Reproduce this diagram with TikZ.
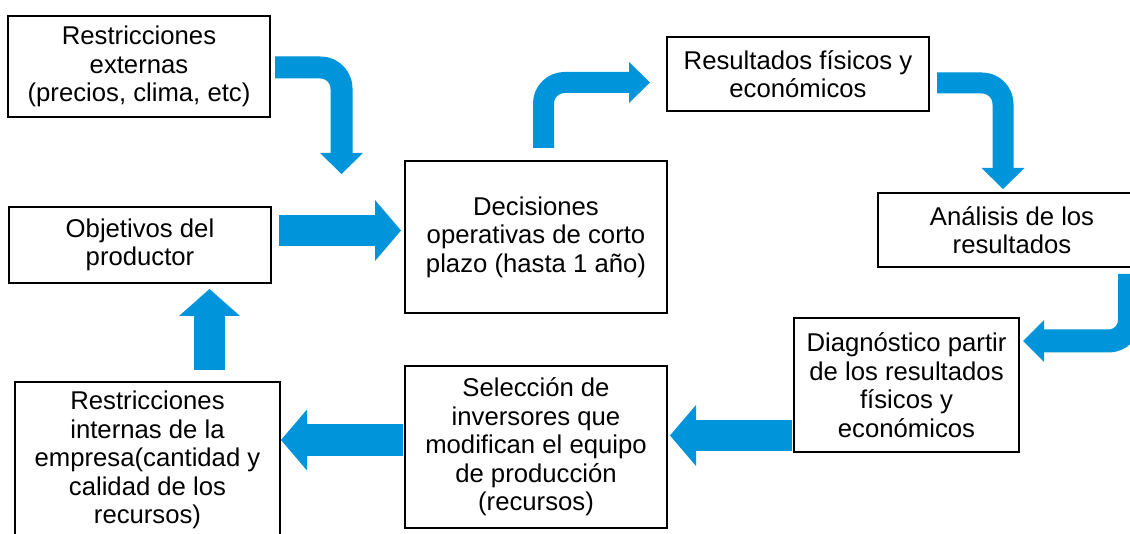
\documentclass[tikz,border=0pt]{standalone}
\usepackage{fontspec}
\setmainfont{Liberation Sans}
\usetikzlibrary{calc}
\definecolor{flowblue}{RGB}{0,149,218}
\newcommand\headv[3]{\fill[head] ($(#1)+(-#3,0)$) -- (#2) -- ($(#1)+(#3,0)$) -- cycle;}
\newcommand\headh[3]{\fill[head] ($(#1)+(0,-#3)$) -- (#2) -- ($(#1)+(0,#3)$) -- cycle;}
\begin{document}
\begin{tikzpicture}[x=1pt,y=-1pt,
  box/.style={draw=black, line width=1.8pt, inner sep=0pt, align=center,
    font=\fontsize{25.7pt}{28.5pt}\selectfont},
  shaft/.style={draw=flowblue, line width=#1, line cap=butt, line join=round, rounded corners=21pt},
  shaft/.default=31pt,
  head/.style={fill=flowblue, draw=none}]
\useasboundingbox (0,0) rectangle (1130,534);
\fill[white] (0,0) rectangle (1130,534);
\clip (0,0) rectangle (1130,534);

% boxes
\node[box, minimum width=262pt, minimum height=101pt] (b1) at (139,66.5) {Restricciones\\externas\\(precios, clima, etc)};
\node[box, minimum width=262pt, minimum height=76pt] (b2) at (140,245) {Objetivos del\\productor};
\node[box, minimum width=265pt, minimum height=156pt] (b3) at (147.5,460) {Restricciones\\internas de la\\empresa(cantidad y\\calidad de los\\recursos)};
\node[box, minimum width=262pt, minimum height=152pt] (b4) at (536,237) {Decisiones\\operativas de corto\\plazo (hasta 1 año)};
\node[box, minimum width=262pt, minimum height=74pt] (b5) at (798,74) {Resultados físicos y\\económicos};
\node[box, minimum width=268pt, minimum height=74pt] (b6) at (1012,230) {Análisis de los\\resultados};
\node[box, minimum width=225pt, minimum height=134pt] (b7) at (906.5,385) {Diagnóstico partir\\de los resultados\\físicos y\\económicos};
\node[box, minimum width=262pt, minimum height=162pt] (b8) at (536,447) {Selección de\\inversores que\\modifican el equipo\\de producción\\(recursos)};

% arrow coordinates
\coordinate (a1s) at (275,67.5);   \coordinate (a1c) at (341.5,67.5);  \coordinate (a1e) at (341.5,153);  \coordinate (a1t) at (341.5,174);
\coordinate (a2s) at (543.5,148);  \coordinate (a2c) at (543.5,82.5);  \coordinate (a2e) at (629,82.5);   \coordinate (a2t) at (650,82.5);
\coordinate (a3s) at (937,83);     \coordinate (a3c) at (1003,83);     \coordinate (a3e) at (1003,168);   \coordinate (a3t) at (1003,189);
\coordinate (a4s) at (1129.5,274); \coordinate (a4c) at (1129.5,341);  \coordinate (a4e) at (1044,341);   \coordinate (a4t) at (1023,341);
\coordinate (a5s) at (792,435.5);  \coordinate (a5e) at (696,435.5);   \coordinate (a5t) at (670,435.5);
\coordinate (a6s) at (403,440);    \coordinate (a6e) at (307,440);     \coordinate (a6t) at (281,440);
\coordinate (a7s) at (209.5,370);  \coordinate (a7e) at (209.5,316);   \coordinate (a7t) at (209.5,289);
\coordinate (a8s) at (279,230.5);  \coordinate (a8e) at (375,230.5);   \coordinate (a8t) at (401,230.5);

% curved arrows
\draw[shaft=22pt] (a1s) -- (a1c) -- ($(a1e)+(0,1)$);  \headv{a1e}{a1t}{21.5}
\draw[shaft=21pt] (a2s) -- (a2c) -- ($(a2e)+(1,0)$);  \headh{a2e}{a2t}{20.5}
\draw[shaft=21pt] (a3s) -- (a3c) -- ($(a3e)+(0,1)$);  \headv{a3e}{a3t}{21.5}
\draw[shaft=23pt] (a4s) -- (a4c) -- ($(a4e)+(-1,0)$); \headh{a4e}{a4t}{21}

% straight arrows
\draw[shaft=31pt] (a5s) -- ($(a5e)+(-1,0)$); \headh{a5e}{a5t}{30.5}
\draw[shaft=32pt] (a6s) -- ($(a6e)+(-1,0)$); \headh{a6e}{a6t}{30.5}
\draw[shaft=31pt] (a7s) -- ($(a7e)+(0,-1)$); \headv{a7e}{a7t}{30.5}
\draw[shaft=31pt] (a8s) -- ($(a8e)+(1,0)$);  \headh{a8e}{a8t}{30.5}
\end{tikzpicture}
\end{document}
